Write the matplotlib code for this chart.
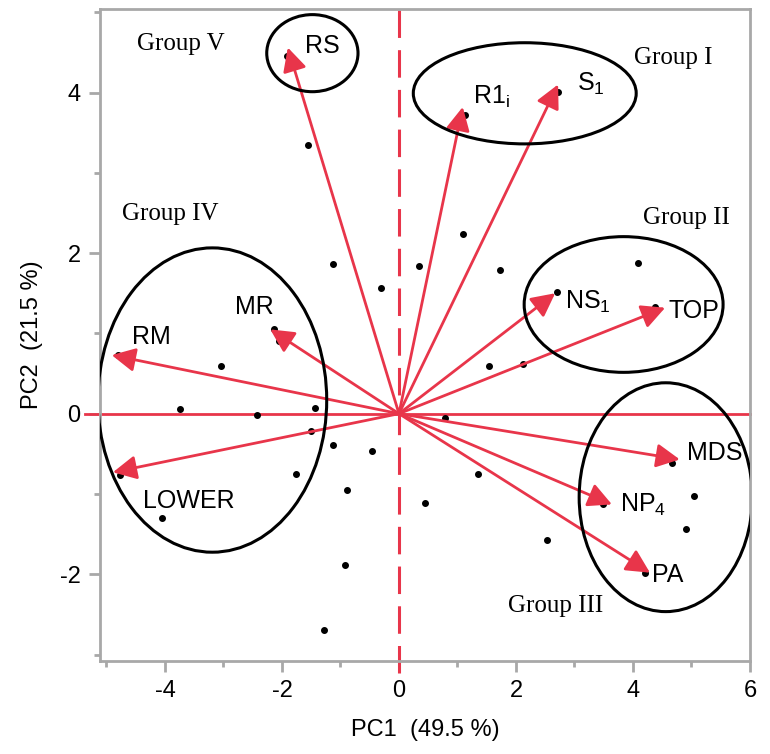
import numpy as np
import matplotlib
matplotlib.use('Agg')
import matplotlib.pyplot as plt
from matplotlib.patches import Ellipse

plt.rcParams['font.family'] = ['Liberation Sans', 'DejaVu Sans']
plt.rcParams['mathtext.fontset'] = 'custom'
plt.rcParams['mathtext.rm'] = 'Liberation Sans'
plt.rcParams['mathtext.it'] = 'Liberation Sans'
plt.rcParams['axes.unicode_minus'] = False

RED = '#e8354a'
GREY = '#a8a8a8'

# variable loadings (arrow tips)
var_names = ['RS', r'R1$_\mathregular{i}$', r'S$_\mathregular{1}$', r'NS$_\mathregular{1}$',
             'TOP', 'MDS', r'NP$_\mathregular{4}$', 'PA', 'MR', 'RM', 'LOWER']
var_x = [-1.90, 1.09, 2.72, 2.67, 4.55, 4.80, 3.64, 4.29, -2.20, -4.91, -4.89]
var_y = [4.56, 3.82, 4.10, 1.50, 1.32, -0.57, -1.13, -1.98, 1.05, 0.73, -0.73]
# label anchor (left edge, baseline)
lab_x = [-1.61, 1.26, 3.04, 2.84, 4.60, 4.92, 3.78, 4.32, -2.80, -4.56, -4.38]
lab_y = [4.49, 3.86, 4.02, 1.31, 1.19, -0.58, -1.22, -2.09, 1.24, 0.87, -1.18]

# sample scores
pts_x = [-1.56, 1.09, -1.13, 0.34, 1.73, -0.31, 4.09, 2.70, 4.38, 1.54, 2.12, 0.79,
         -2.05, -2.14, -3.04, -3.74, -2.43, -1.44, -1.50, -1.13, -0.46, -1.76, -0.89,
         0.44, 1.35, 2.53, 5.04, 4.91, -4.05, -0.92, -1.28, -4.80, -4.77, 2.72, 1.13,
         -1.91, 4.67, 3.49, 4.21]
pts_y = [3.35, 2.24, 1.86, 1.84, 1.79, 1.56, 1.88, 1.51, 1.33, 0.60, 0.62, -0.05,
         0.90, 1.05, 0.59, 0.06, -0.02, 0.07, -0.22, -0.39, -0.46, -0.75, -0.95,
         -1.11, -0.75, -1.57, -1.03, -1.43, -1.30, -1.89, -2.70, 0.73, -0.76, 4.01, 3.72,
         4.45, -0.61, -1.13, -1.99]

# group ellipses: centre x, centre y, width, height
grp_cx = [-1.48, 2.15, 3.84, 4.56, -3.19]
grp_cy = [4.49, 3.99, 1.36, -1.04, 0.17]
grp_w = [1.56, 3.81, 3.40, 2.96, 3.91]
grp_h = [0.96, 1.26, 1.69, 2.85, 3.79]

grp_names = ['Group V', 'Group I', 'Group IV', 'Group II', 'Group III']
grp_lx = [-3.73, 4.68, -3.91, 4.91, 2.67]
grp_ly = [4.61, 4.43, 2.49, 2.44, -2.40]

fig = plt.figure(figsize=(7.7, 7.54), dpi=100)
ax = fig.add_axes([100/770, 93/754, 650/770, 652/754])

ax.set_xlim(-5.11, 6.0)
ax.set_ylim(-3.08, 5.04)

for s in ax.spines.values():
    s.set_color(GREY)
    s.set_linewidth(2)

ax.set_xticks([-4, -2, 0, 2, 4, 6])
ax.set_xticks([-5, -3, -1, 1, 3, 5], minor=True)
ax.set_yticks([-2, 0, 2, 4])
ax.set_yticks([-3, -1, 1, 3, 5], minor=True)
ax.tick_params(which='both', direction='out', color=GREY, width=2)
ax.tick_params(which='major', length=8, labelsize=17, pad=6)
ax.tick_params(which='minor', length=4)

ax.set_xlabel('PC1  (49.5 %)', fontsize=17, labelpad=12)
ax.set_ylabel('PC2  (21.5 %)', fontsize=17, labelpad=12)

# reference lines
ax.plot([-5.36, 6.0], [0, 0], color=RED, lw=2, clip_on=False, zorder=2)
ax.plot([0, 0], [-3.23, 5.04], color=RED, lw=2.2, dashes=(9, 4), clip_on=False, zorder=2)

ax.plot(pts_x, pts_y, 'o', color='black', markersize=4, zorder=3)

for x, y in zip(var_x, var_y):
    ax.annotate('', xy=(x, y), xytext=(0, 0),
                arrowprops=dict(arrowstyle='-|>,head_length=0.65,head_width=0.33',
                                color=RED, lw=2, mutation_scale=22,
                                shrinkA=0, shrinkB=0), zorder=4)

for name, x, y in zip(var_names, lab_x, lab_y):
    ax.text(x, y, name, fontsize=18, ha='left', va='baseline', zorder=5)

for cx, cy, w, h in zip(grp_cx, grp_cy, grp_w, grp_h):
    ax.add_patch(Ellipse((cx, cy), w, h, fill=False, edgecolor='black', lw=2.2, zorder=5))

for name, x, y in zip(grp_names, grp_lx, grp_ly):
    ax.text(x, y, name, fontsize=18, family='Liberation Serif', ha='center', va='center')

fig.savefig('out.png', dpi=100)
